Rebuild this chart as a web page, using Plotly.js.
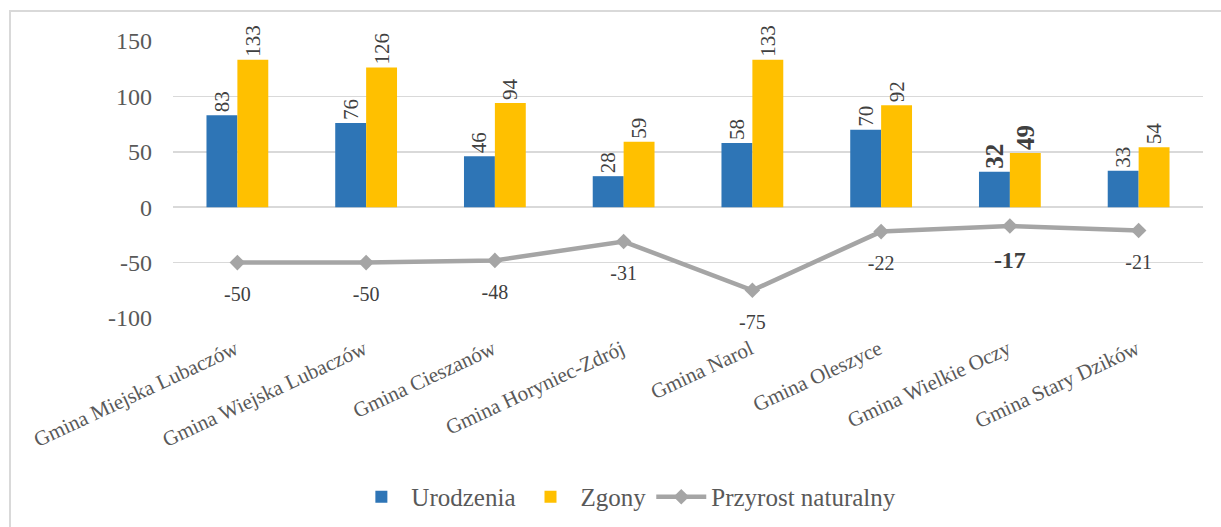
<!DOCTYPE html>
<html>
<head>
<meta charset="utf-8">
<script src="https://cdn.plot.ly/plotly-3.0.1.min.js"></script>
<style>
html,body{margin:0;padding:0;background:#fff;}
#wrap{position:relative;width:1221px;height:527px;overflow:hidden;}
#chart{position:absolute;left:0;top:0;width:1221px;height:527px;}
#frame{position:absolute;left:9px;top:10px;width:1230px;height:530px;border:2px solid #d9d9d9;box-sizing:border-box;pointer-events:none;}
</style>
</head>
<body>
<div id="wrap"><div id="chart"></div><div id="frame"></div></div>
<script>
const categories = ["Gmina Miejska Lubaczów","Gmina Wiejska Lubaczów","Gmina Cieszanów","Gmina Horyniec-Zdrój","Gmina Narol","Gmina Oleszyce","Gmina Wielkie Oczy","Gmina Stary Dzików"];
const urodzenia = [83, 76, 46, 28, 58, 70, 32, 33];
const zgony = [133, 126, 94, 59, 133, 92, 49, 54];
const przyrost = [-50, -50, -48, -31, -75, -22, -17, -21];
const boldIndex = [6];
const yTicks = [-100, -50, 0, 50, 100, 150];

const serif = "Liberation Serif, serif";
const isBold = i => boldIndex.includes(i);
const lbl = arr => arr.map((v,i) => isBold(i) ? "<b>"+v+"</b>" : String(v));
const sizes = (n, b) => categories.map((c,i) => isBold(i) ? b : n);

const traces = [
  {type:"bar", name:"Urodzenia", x:categories, y:urodzenia, marker:{color:"#2e75b6"},
   text:lbl(urodzenia), textposition:"outside", textangle:-90, cliponaxis:false, constraintext:"none",
   textfont:{family:serif, size:sizes(21,25), color:"#404040"}, hoverinfo:"y"},
  {type:"bar", name:"Zgony", x:categories, y:zgony, marker:{color:"#ffc000"},
   text:lbl(zgony), textposition:"outside", textangle:-90, cliponaxis:false, constraintext:"none",
   textfont:{family:serif, size:sizes(21,25), color:"#404040"}, hoverinfo:"y"},
  {type:"scatter", mode:"lines+markers", name:"Przyrost naturalny", x:categories, y:przyrost,
   line:{color:"#a5a5a5", width:4.5}, marker:{symbol:"diamond", size:12, color:"#a5a5a5"}, cliponaxis:false},
  {type:"scatter", mode:"markers+text", name:"Przyrost naturalny (etykiety)", showlegend:false, hoverinfo:"skip",
   x:categories, y:przyrost, marker:{size:36, opacity:0, color:"#a5a5a5"},
   text:lbl(przyrost), textposition:"bottom center", cliponaxis:false,
   textfont:{family:serif, size:sizes(20,24), color:"#404040"}}
];

const layout = {
  width:1221, height:527,
  margin:{l:173, r:18, t:41, b:209, autoexpand:false},
  paper_bgcolor:"#fff", plot_bgcolor:"#fff",
  barmode:"group", bargap:0.52, bargroupgap:0,
  font:{family:serif, size:20, color:"#595959"},
  showlegend:true,
  legend:{orientation:"h", xref:"container", yref:"container", x:0.513, xanchor:"center", y:0.057, yanchor:"middle",
          font:{family:serif, size:25, color:"#595959"}, traceorder:"normal", itemwidth:50},
  xaxis:{type:"category", range:[-0.5, categories.length - 0.5], automargin:false, tickangle:-25,
         tickfont:{family:serif, size:21, color:"#595959"},
         showline:false, showgrid:false, ticks:"", ticklabelstandoff:14, ticklabelshift:-2},
  yaxis:{range:[-100,150], automargin:false, tickvals:yTicks, ticktext:yTicks.map(String),
         tickfont:{family:serif, size:24, color:"#595959"},
         showgrid:true, gridcolor:"#d9d9d9", gridwidth:1.5, zeroline:true, zerolinecolor:"#d9d9d9", zerolinewidth:1.5,
         showline:false, ticks:"", ticklabelstandoff:20}
};

Plotly.newPlot("chart", traces, layout, {displayModeBar:false, staticPlot:true});
</script>
</body>
</html>
